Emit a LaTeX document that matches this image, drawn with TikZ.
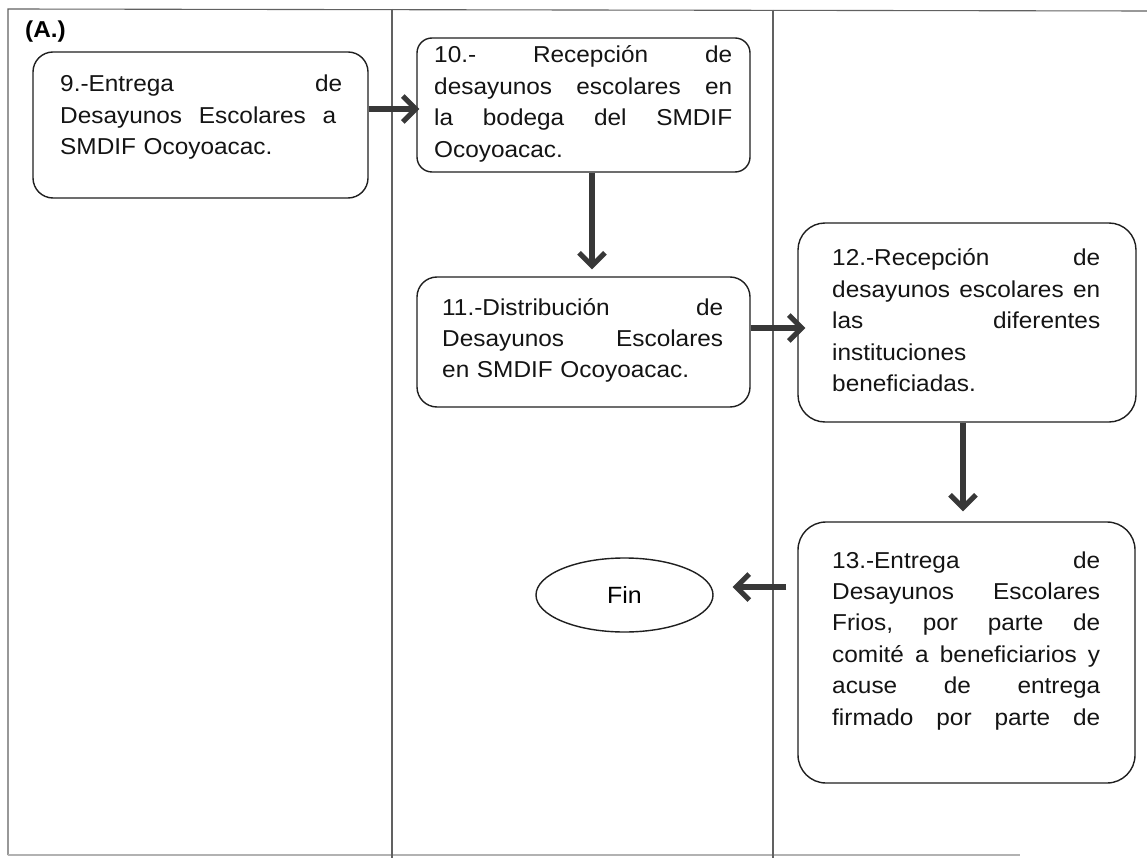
\documentclass[tikz,border=0pt]{standalone}
\usepackage{fontspec}
\setmainfont{Liberation Sans}[FakeStretch=1.06]
\usetikzlibrary{arrows.meta,shapes.geometric}
\newcommand{\jl}[2]{\leavevmode\hbox to #1{#2}}
\newcommand{\gp}{\hskip 0.25em plus 1fill\relax}
\begin{document}
\begin{tikzpicture}[x=1pt,y=1pt,
  box/.style={draw=black!88, line width=1.4pt, inner sep=0pt},
  txt/.style={inner sep=0pt, anchor=base west, align=left,
    font=\fontsize{23}{31.4}\selectfont, text=black!92},
  conn/.style={draw=black!78, line width=6pt,
    -{Straight Barb[length=13pt,width=26pt,line width=5pt]}},
  frameline/.style={draw=black!62, line width=1.1pt},
  faintline/.style={draw=black!30, line width=1.1pt}]
\useasboundingbox (0,0) rectangle (1147,-858);
\fill[white] (0,0) rectangle (1147,-858);
% frame and lanes
\draw[frameline] (1147,-11) -- (8,-9) -- (8,-855);
\draw[faintline] (8,-855) -- (1020,-855);
\draw[frameline] (392,-9) -- (392,-858);
\draw[frameline] (773,-10) -- (773,-858);
% label
\node[inner sep=0pt, anchor=base west, font=\fontsize{23}{28}\selectfont\bfseries] (lab) at (25,-38) {(A.)};
% boxes
\node[box, rounded corners=20pt, minimum width=335pt, minimum height=146pt] (b9) at (200.5,-125) {};
\node[box, rounded corners=15pt, minimum width=333pt, minimum height=134pt] (b10) at (583.5,-105) {};
\node[box, rounded corners=20pt, minimum width=333pt, minimum height=130pt] (b11) at (583.5,-342) {};
\node[box, rounded corners=27pt, minimum width=338pt, minimum height=199pt] (b12) at (967,-322.5) {};
\node[box, rounded corners=28pt, minimum width=337pt, minimum height=261pt] (b13) at (966.5,-652.5) {};
\node[box, ellipse, minimum width=177pt, minimum height=74pt, font=\fontsize{23.5}{28}\selectfont] (fin) at (624.5,-595) {Fin};
% texts
\node[txt, text width=282pt] (t9) at (60,-92)
  {\jl{282pt}{9.-Entrega\gp de}\\\jl{276pt}{Desayunos\gp Escolares\gp a}\\SMDIF Ocoyoacac.};
\node[txt, text width=298pt] (t10) at (434,-63)
  {\jl{298pt}{10.-\gp Recepción\gp de}\\\jl{298pt}{desayunos\gp escolares\gp en}\\\jl{298pt}{la\gp bodega\gp del\gp SMDIF}\\Ocoyoacac.};
\node[txt, text width=281pt] (t11) at (442,-315)
  {\jl{281pt}{11.-Distribución\gp de}\\\jl{281pt}{Desayunos\gp Escolares}\\en SMDIF Ocoyoacac.};
\node[txt, text width=268pt] (t12) at (832,-266)
  {\jl{268pt}{12.-Recepción\gp de}\\\jl{268pt}{desayunos\gp escolares\gp en}\\\jl{268pt}{las\gp diferentes}\\instituciones\\beneficiadas.};
\node[txt, text width=268pt] (t13) at (832,-568)
  {\jl{268pt}{13.-Entrega\gp de}\\\jl{268pt}{Desayunos\gp Escolares}\\\jl{268pt}{Frios,\gp por\gp parte\gp de}\\\jl{268pt}{comité\gp a\gp beneficiarios\gp y}\\\jl{268pt}{acuse\gp de\gp entrega}\\\jl{268pt}{firmado\gp por\gp parte\gp de}};
% connectors
\draw[conn] ([yshift=16pt]b9.east) -- ([xshift=3pt,yshift=-4pt]b10.west);
\draw[conn] ([xshift=8.5pt]b10.south) -- ([xshift=8.5pt,yshift=7pt]b11.north);
\draw[conn] ([yshift=14pt]b11.east) -- ([xshift=8pt,yshift=-5.5pt]b12.west);
\draw[conn] ([xshift=-4pt]b12.south) -- ([xshift=-3.5pt,yshift=10pt]b13.north);
\draw[conn] ([xshift=-11pt,yshift=65.5pt]b13.west) -- ([xshift=19pt,yshift=8pt]fin.east);
\end{tikzpicture}
\end{document}
